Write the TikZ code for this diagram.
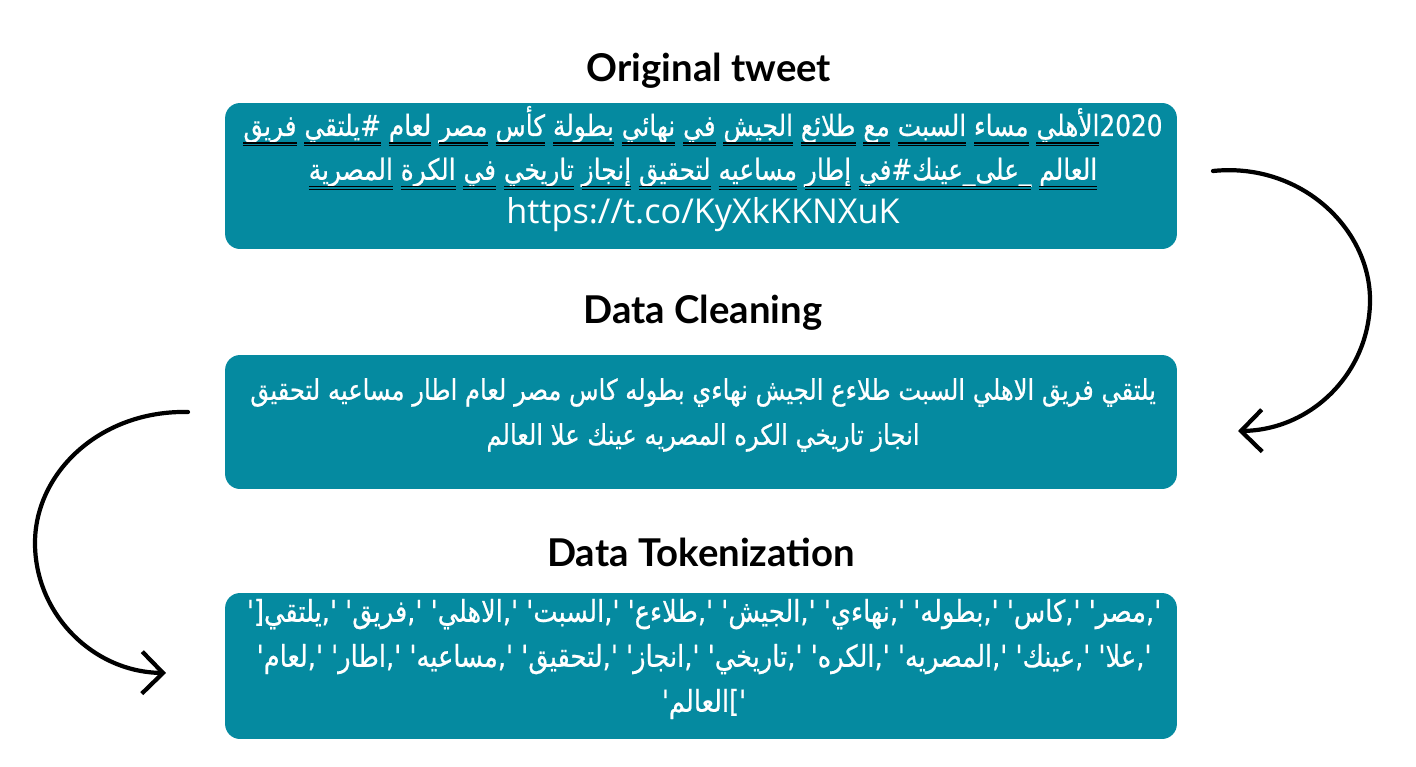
\documentclass[tikz,border=0pt]{standalone}
\usepackage{fontspec}
\setmainfont{Lato}
\newfontfamily\arabicfont[Script=Arabic,Ligatures=TeXOff,FakeStretch=0.85,FakeBold=0.6]{DejaVu Sans}
\newfontfamily\linkfont{Open Sans}
\TeXXeTstate=1
\usetikzlibrary{arrows.meta,positioning}
\definecolor{boxteal}{RGB}{5,138,160}
\definecolor{spellred}{RGB}{235,45,45}
% one quoted token of the list
\newcommand\qtok[1]{'\kern0pt#1\kern0pt'}
% underlined word, with the spell-check line below it
\newcommand\uw[1]{\setbox0\hbox{#1}\hbox{%
  \rlap{\raisebox{-4.3pt}{\color{white}\rule{\wd0}{0.7pt}}}%
  \rlap{\raisebox{-5.9pt}{\color{spellred}\rule{\wd0}{0.9pt}}}\box0}}

\begin{document}
\begin{tikzpicture}[x=0.02cm, y=-0.02cm, >={Straight Barb[length=0.42cm,width=0.84cm]},
  stage/.style={font=\fontsize{21.8}{26}\selectfont\bfseries},
  panel/.style={fill=boxteal, rounded corners=0.3cm, minimum width=19.04cm},
  paneltext/.style={text=white, align=center, font=\arabicfont\fontsize{16.2}{25.6}\selectfont},
  loopline/.style={line width=2.4pt, line cap=round}]
\useasboundingbox (0,0) rectangle (1416,767);

% stages
\node[stage] (torig) at (709,71) {Original tweet};
\node[panel, minimum height=2.92cm] (tweet) at (701,176) {};
\node[paneltext, font=\arabicfont\fontsize{16.6}{25}\selectfont] (tweettext) at (703,169) {%
\beginR\beginL2020\endL{}\uw{الأهلي} \uw{مساء} \uw{السبت} \uw{مع} \uw{طلائع} \uw{الجيش} \uw{في} \uw{نهائي} \uw{بطولة} \uw{كأس} \uw{مصر} \uw{لعام} \uw{\#يلتقي} \uw{فريق}\endR\\
\beginR\uw{العالم} \uw{\textunderscore على\textunderscore عينك\#في} \uw{إطار} \uw{مساعيه} \uw{لتحقيق} \uw{إنجاز} \uw{تاريخي} \uw{في} \uw{الكرة} \uw{المصرية}\endR\\
{\linkfont\fontsize{19.5}{25}\selectfont https://t.co/KyXkKKNXuK}};

\node[stage] (tclean) at (703,313) {Data Cleaning};
\node[panel, minimum height=2.68cm] (clean) at (701,422) {};
\node[paneltext] (cleantext) at (703,415) {%
\beginR يلتقي فريق الاهلي السبت طلاءع الجيش نهاءي بطوله كاس مصر لعام اطار مساعيه لتحقيق\endR\\
\beginR انجاز تاريخي الكره المصريه عينك علا العالم\endR};

\node[stage] (ttoken) at (701,552) {Data Tokenization};
\node[panel, minimum height=2.92cm] (token) at (701,666) {};
\node[paneltext, font=\arabicfont\fontsize{17.2}{25.6}\selectfont] (tokentext) at (704,659) {%
[\qtok{يلتقي}, \qtok{فريق}, \qtok{الاهلي}, \qtok{السبت}, \qtok{طلاءع}, \qtok{الجيش}, \qtok{نهاءي}, \qtok{بطوله}, \qtok{كاس}, \qtok{مصر},\\
\qtok{لعام}, \qtok{اطار}, \qtok{مساعيه}, \qtok{لتحقيق}, \qtok{انجاز}, \qtok{تاريخي}, \qtok{الكره}, \qtok{المصريه}, \qtok{عينك}, \qtok{علا},\\
\qtok{العالم}]};

% curved arrows between the stages
\coordinate (rstart) at (1213,171);
\coordinate (rend) at (1238,431);
\coordinate (lstart) at (188,412);
\coordinate (lend) at (166,673);
\draw[loopline,->] (rstart) .. controls (1300,162) and (1370,228) .. (1370,300)
  .. controls (1370,372) and (1312,430) .. (rend);
\draw[loopline,->] (lstart) .. controls (101,410) and (35,472) .. (35,543)
  .. controls (35,614) and (93,672) .. (lend);
\end{tikzpicture}
\end{document}
